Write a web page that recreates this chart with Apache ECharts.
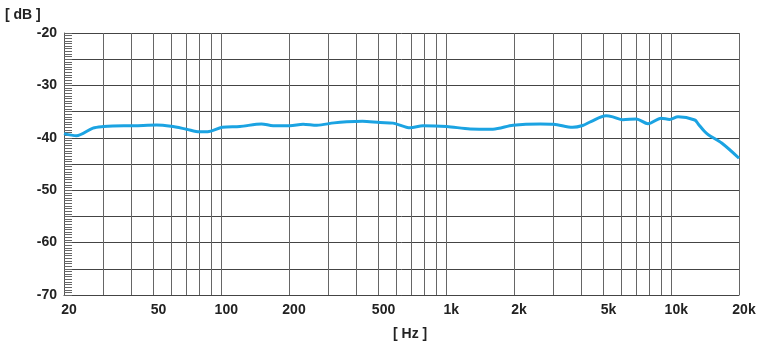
<!DOCTYPE html>
<html>
<head>
<meta charset="utf-8">
<script src="https://cdn.jsdelivr.net/npm/echarts@6/dist/echarts.min.js"></script>
<style>html,body{margin:0;padding:0;background:#fff}#c{width:770px;height:356px}</style>
</head>
<body>
<div id="c"></div>
<script>
// Frequency (Hz) and level (dB)
var freqs = [20, 22.7, 26.9, 30, 33, 41, 51.6, 59.8, 70, 80, 87, 101, 121, 151, 170, 202, 231, 266, 317, 361, 424, 508, 580, 691, 789, 1005, 1277, 1612, 1982, 2622, 3000, 3642, 4036, 4394, 5130, 5495, 6093, 6989, 7878, 9018, 9830, 10720, 12723, 13200, 14000, 14603, 16750, 20000];
var levels = [-39.2, -39.6, -38.15, -37.85, -37.75, -37.7, -37.55, -37.8, -38.35, -38.85, -38.85, -38.0, -37.85, -37.35, -37.7, -37.7, -37.4, -37.6, -37.15, -36.95, -36.85, -37.1, -37.2, -38.1, -37.7, -37.85, -38.3, -38.35, -37.6, -37.35, -37.4, -38.0, -37.65, -36.9, -35.8, -36.0, -36.55, -36.4, -37.3, -36.25, -36.5, -36.0, -36.6, -37.4, -38.7, -39.4, -41.0, -43.9];
var gridFreqs = [20, 30, 40, 50, 60, 70, 80, 90, 100, 200, 300, 400, 500, 600, 700, 800, 900, 1000, 2000, 3000, 4000, 5000, 6000, 7000, 8000, 9000, 10000, 20000];
var labelFreqs = [20, 50, 100, 200, 500, 1000, 2000, 5000, 10000, 20000];
var labelTexts = ['20', '50', '100', '200', '500', '1k', '2k', '5k', '10k', '20k'];

var lg = function (f) { return Math.log10(f); };
var xMin = lg(20), xMax = lg(20000);
var data = freqs.map(function (f, i) { return [lg(f), levels[i]]; });

var chart = echarts.init(document.getElementById('c'), null, { renderer: 'canvas' });
var font = 'Liberation Sans, Arial, Helvetica, sans-serif';
chart.setOption({
  backgroundColor: '#fff',
  animation: false,
  grid: { left: 64, right: 31, top: 33, bottom: 61, containLabel: false },
  xAxis: {
    type: 'value', min: xMin, max: xMax,
    axisLine: { show: true, lineStyle: { color: '#444', width: 1 } },
    axisTick: { show: false, customValues: gridFreqs.map(lg) },
    splitLine: { show: true, lineStyle: { color: '#666', width: 1 } },
    axisLabel: {
      customValues: labelFreqs.map(lg),
      margin: 8,
      padding: [0, 0, 0, 10],
      color: '#222', fontSize: 14, fontWeight: 'bold', fontFamily: font,
      formatter: function (v) {
        var f = Math.round(Math.pow(10, v));
        var i = labelFreqs.indexOf(f);
        return i >= 0 ? labelTexts[i] : '';
      }
    }
  },
  yAxis: {
    type: 'value', min: -70, max: -20, interval: 5,
    axisLine: { show: true, lineStyle: { color: '#555', width: 1 } },
    axisTick: { show: true, inside: true, length: 8, lineStyle: { color: '#666' } },
    minorTick: { show: true, splitNumber: 10, length: 8, lineStyle: { color: '#666', width: 1 } },
    splitLine: { show: true, lineStyle: { color: '#444', width: 1 } },
    axisLabel: {
      margin: 7, color: '#222', fontSize: 14, fontWeight: 'bold', fontFamily: font,
      formatter: function (v) { return v % 10 === 0 ? String(v) : ''; }
    }
  },
  graphic: [
    { type: 'text', left: 5, top: 8, style: { text: '[ dB ]', fill: '#222', font: 'bold 14px ' + font } },
    { type: 'text', left: 393, top: 327, style: { text: '[ Hz ]', fill: '#222', font: 'bold 14px ' + font } }
  ],
  series: [{
    type: 'line', data: data, showSymbol: false, smooth: 0.3,
    lineStyle: { color: '#1ba3e2', width: 3 },
    clip: true
  }]
});
</script>
</body>
</html>
